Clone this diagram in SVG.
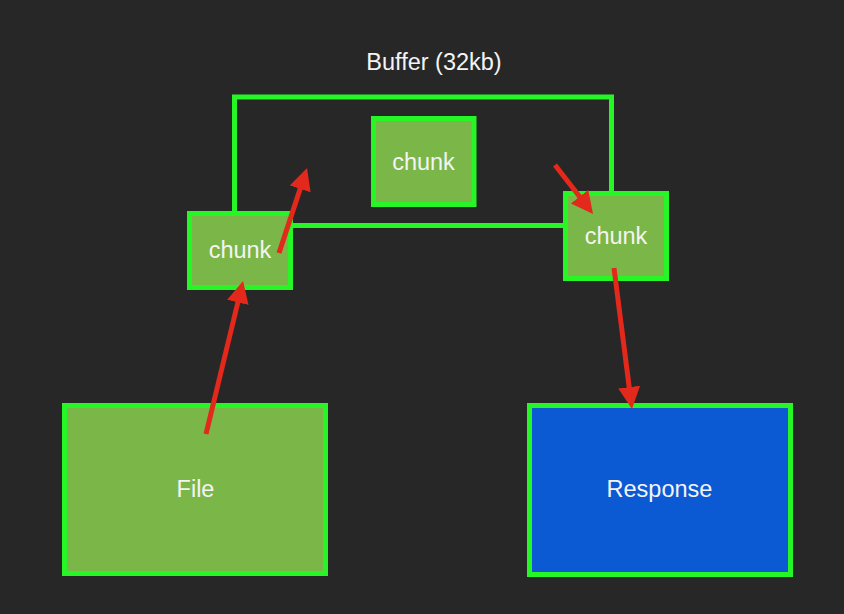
<svg xmlns="http://www.w3.org/2000/svg" width="844" height="614" viewBox="0 0 844 614">
<defs>
<style>
.box{fill:#7AB648;stroke:#26F526;stroke-width:5}
.resp{fill:#0B5AD4;stroke:#26F526;stroke-width:5}
.frame{fill:none;stroke:#26F526;stroke-width:5}
.lbl{font-family:"Liberation Sans",Arial,sans-serif;fill:#F4F4F4;text-anchor:middle;font-size:23.5px}
.arr{stroke:#E3281C;stroke-width:5;fill:none;marker-end:url(#ah)}
</style>
<marker id="ah" markerUnits="userSpaceOnUse" markerWidth="22" markerHeight="22" refX="4" refY="11" orient="auto" viewBox="0 0 22 22">
<path d="M0,0 L22,11 L0,22 z" fill="#E3281C"/>
</marker>
</defs>
<rect width="844" height="614" fill="#272727"/>
<g id="buffer">
<rect class="frame" x="234.5" y="97" width="377" height="128.5"/>
<text class="lbl" x="434" y="69.5">Buffer (32kb)</text>
</g>
<g id="chunk-middle">
<rect class="box" x="373.5" y="118.5" width="100.5" height="86"/>
<text class="lbl" x="423.5" y="170">chunk</text>
</g>
<g id="chunk-left">
<rect class="box" x="189.5" y="213.5" width="101" height="74"/>
<text class="lbl" x="240" y="258">chunk</text>
</g>
<g id="chunk-right">
<rect class="box" x="565.5" y="193.5" width="101" height="85"/>
<text class="lbl" x="616" y="244">chunk</text>
</g>
<g id="file">
<rect class="box" x="64.5" y="405.5" width="261" height="168"/>
<text class="lbl" x="195.5" y="497">File</text>
</g>
<g id="response">
<rect class="resp" x="529.5" y="405.5" width="261" height="169"/>
<text class="lbl" x="659.5" y="497">Response</text>
</g>
<g id="connectors">
<line class="arr" x1="206" y1="434" x2="238.8" y2="298.5"/>
<line class="arr" x1="279" y1="253" x2="301.4" y2="185.1"/>
<line class="arr" x1="555" y1="165" x2="582" y2="199.8"/>
<line class="arr" x1="614" y1="268" x2="629.7" y2="391.1"/>
</g>
</svg>
